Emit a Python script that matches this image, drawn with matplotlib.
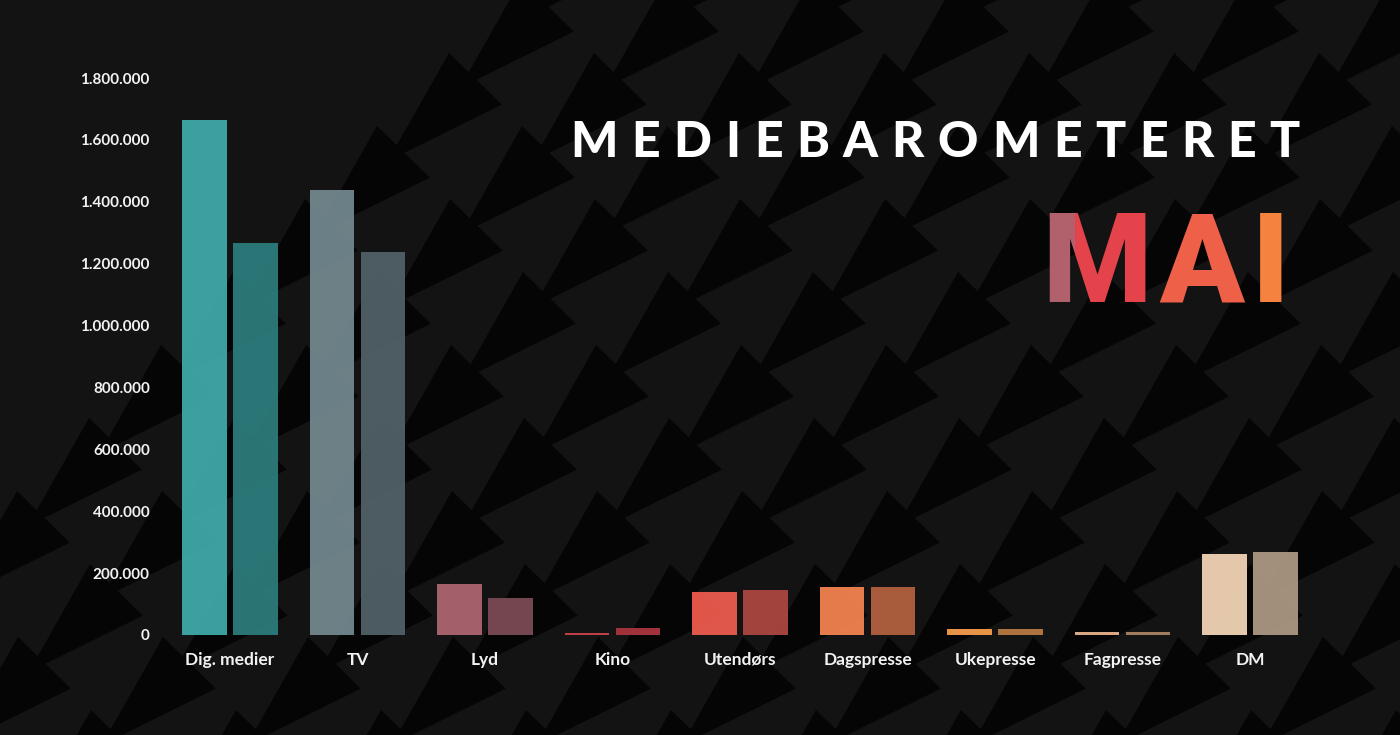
import numpy as np
import matplotlib.pyplot as plt
from matplotlib import font_manager
from matplotlib.collections import PolyCollection
from matplotlib.patches import Rectangle
from matplotlib.ticker import FuncFormatter

# Data
categories = ['Dig. medier', 'TV', 'Lyd', 'Kino', 'Utendørs', 'Dagspresse', 'Ukepresse', 'Fagpresse', 'DM']
series_a = [1665000, 1438000, 165000, 8000, 139000, 155000, 19000, 9000, 262000]
series_b = [1267000, 1238000, 120000, 22000, 145000, 155000, 18000, 9000, 268000]
colors_a = ['#3ea6a7', '#70858c', '#aa636e', '#c8404b', '#e95a4d', '#f0814f', '#f39b4b', '#e4b088', '#efd1b3']
colors_b = ['#2c7a7a', '#505f66', '#7a4953', '#a8343d', '#a9463f', '#b0603e', '#b67841', '#a88062', '#a99682']
yticks = [0, 200000, 400000, 600000, 800000, 1000000, 1200000, 1400000, 1600000, 1800000]

FONT = 'Lato'
names = {f.name for f in font_manager.fontManager.ttflist}
MAI_FONT = 'Roboto' if 'Roboto' in names else FONT
W, H = 1400, 735

fig = plt.figure(figsize=(14, 7.35), dpi=100)
fig.patch.set_facecolor('#131313')

# background pattern: black arrow heads on a dark grey lattice (pixel coords)
bg = fig.add_axes([0, 0, 1, 1], zorder=0)
bg.set_xlim(0, W)
bg.set_ylim(H, 0)
bg.axis('off')
tri = np.array([[0, 0], [44, 43], [-51, 90]]) * 1.2
polys = []
for j in range(-6, 14):
    for i in range(-4, 16):
        ox = 813 + 145 * i - 72 * j
        oy = 272 + 73 * j
        if -150 < ox < W + 150 and -150 < oy < H + 50:
            polys.append(tri + [ox, oy])
bg.add_collection(PolyCollection(polys, facecolors='#050505', edgecolors='none'))

# bar chart
ax = fig.add_axes([0.1179, 1 - 635 / H, 0.8178, (635 - 78) / H], zorder=2)
ax.patch.set_alpha(0)
x = np.arange(len(categories))
bw = 0.35
ax.bar(x - 0.2, series_a, width=bw, color=colors_a, alpha=0.96)
ax.bar(x + 0.2, series_b, width=bw, color=colors_b, alpha=0.96)
ax.set_xlim(-0.51, 8.47)
ax.set_ylim(0, 1800000)
ax.set_yticks(yticks)
ax.yaxis.set_major_formatter(FuncFormatter(lambda v, p: f"{int(v):,}".replace(',', '.')))
ax.set_xticks(x)
ax.set_xticklabels(categories)
for s in ax.spines.values():
    s.set_visible(False)
ax.tick_params(axis='y', length=0, pad=11, labelcolor='#f2f2f2', labelsize=11)
ax.tick_params(axis='x', length=0, pad=12, labelcolor='#f2f2f2', labelsize=12.5)
for lab in ax.get_yticklabels() + ax.get_xticklabels():
    lab.set_fontfamily(FONT)
    lab.set_fontweight('bold')

renderer = fig.canvas.get_renderer()


def spaced(letters, x0, x1, y, size, colors, family=FONT, weight='black', min_gap=None):
    texts = [bg.text(0, y, ch, fontsize=size, fontweight=weight, family=family,
                     color=c, ha='left', va='baseline', zorder=3)
             for ch, c in zip(letters, colors)]
    widths = [t.get_window_extent(renderer).width for t in texts]
    if min_gap is not None:
        need = sum(widths) + min_gap * (len(letters) - 1)
        if need > x1 - x0:
            k = (x1 - x0 - min_gap * (len(letters) - 1)) / sum(widths)
            for t in texts:
                t.set_fontsize(size * k)
            widths = [t.get_window_extent(renderer).width for t in texts]
    gap = (x1 - x0 - sum(widths)) / (len(letters) - 1)
    pos = x0
    spans = []
    for t, w in zip(texts, widths):
        t.set_x(pos)
        spans.append((pos, pos + w))
        pos += w + gap
    return texts, spans


title = 'MEDIEBAROMETERET'
spaced(title, 570, 1300, 157, 36, ['white'] * len(title))

texts, spans = spaced('MAI', 1042, 1290, 302, 99, ['#e5434c', '#ee6047', '#f6823f'],
                      family=MAI_FONT, weight='black', min_gap=8)
# M: left stroke in mauve, rest in red
m = texts[0]
m0, m1 = spans[0]
split = m0 + 0.3 * (m1 - m0)
m.set_clip_on(True)
m.set_clip_path(Rectangle((split, 0), m1 - split + 20, H, transform=bg.transData))
m2 = bg.text(m.get_position()[0], 302, 'M', fontsize=m.get_fontsize(), fontweight='black',
             family=MAI_FONT, color='#b0616c', ha='left', va='baseline', zorder=3, clip_on=True)
m2.set_clip_path(Rectangle((m0 - 20, 0), split - m0 + 20, H, transform=bg.transData))

fig.savefig('out.png', dpi=100, facecolor=fig.get_facecolor())
